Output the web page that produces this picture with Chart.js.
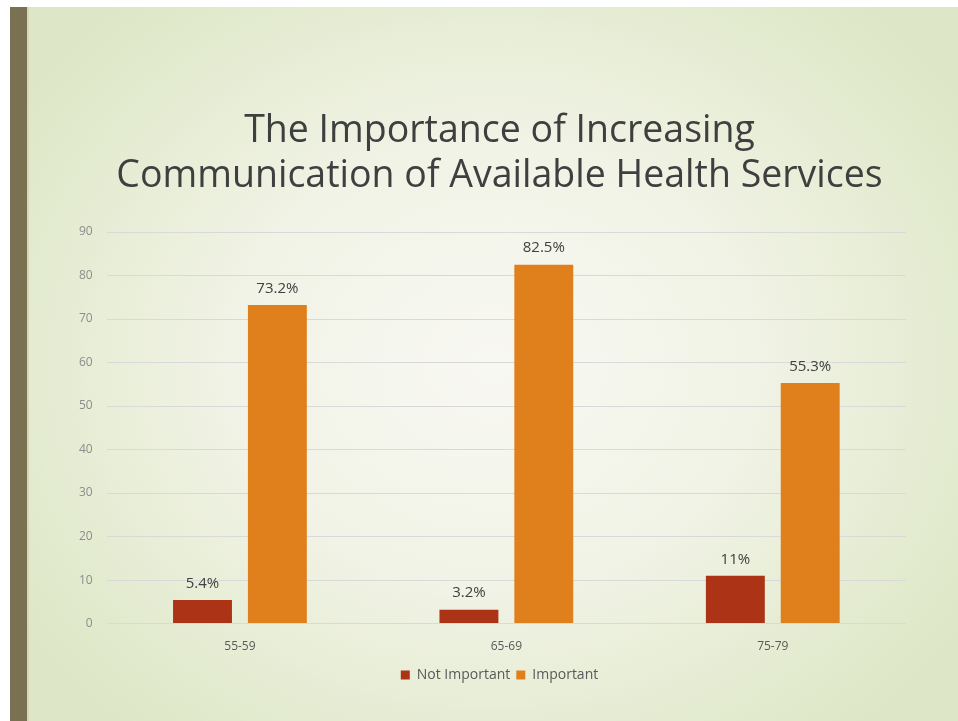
<!DOCTYPE html>
<html>
<head>
<meta charset="utf-8">
<script src="https://cdn.jsdelivr.net/npm/chart.js@4/dist/chart.umd.min.js"></script>
<style>
    html, body { margin: 0; padding: 0; background: #fff; }
    #slide {
        position: absolute; left: 0; top: 0; width: 958px; height: 721px;
        background: #fff; overflow: hidden;
    }
    #stage {
        position: absolute; left: 27px; top: 7px; width: 931px; height: 714px;
        background: radial-gradient(ellipse 62% 68% at 50% 50%, #f8f8f2 0%, #f1f3e6 45%, #e2eacd 85%, #dde6c6 100%);
    }
    #bar {
        position: absolute; left: 10px; top: 7px; width: 17px; height: 714px;
        background: #7a7153;
        box-shadow: 2px 0 0 #d8d6b8;
    }
    #chartBox { position: absolute; left: 0; top: 0; width: 958px; height: 721px; }
</style>
</head>
<body>
<div id="slide">
    <div id="stage"></div>
    <div id="bar"></div>
    <div id="chartBox"><canvas id="importanceChart" width="958" height="721"></canvas></div>
</div>
<script>
// Survey answers by age group (percent)
const ageGroups = ["55-59", "65-69", "75-79"];
const notImportant = [5.4, 3.2, 11];
const important = [73.2, 82.5, 55.3];
const yTicks = [0, 10, 20, 30, 40, 50, 60, 70, 80, 90];

const titleLines = ["The Importance of Increasing", "Communication of Available Health Services"];

// draw the "xx%" labels on top of each bar
const barLabels = {
    id: 'barLabels',
    afterDatasetsDraw(chart) {
        const ctx = chart.ctx;
        ctx.save();
        ctx.font = '15px "Open Sans", sans-serif';
        ctx.fillStyle = '#404040';
        ctx.textAlign = 'center';
        ctx.textBaseline = 'bottom';
        chart.data.datasets.forEach((ds, i) => {
            const meta = chart.getDatasetMeta(i);
            meta.data.forEach((bar, j) => {
                ctx.fillText(ds.data[j] + '%', bar.x, bar.y - 9);
            });
        });
        ctx.restore();
    }
};

// title and legend sit centred on the slide, not on the plot
const centreOnSlide = {
    id: 'centreOnSlide',
    afterLayout(chart) {
        const shift = 14;
        [chart.titleBlock, chart.legend].forEach(box => {
            if (box) {
                box.left += shift;
                box.right += shift;
            }
        });
    }
};

const ctx = document.getElementById('importanceChart').getContext('2d');
new Chart(ctx, {
    type: 'bar',
    data: {
        labels: ageGroups,
        datasets: [
            {
                label: 'Not Important',
                data: notImportant,
                backgroundColor: '#ad3316',
                barPercentage: 0.787,
                categoryPercentage: 0.562
            },
            {
                label: 'Important',
                data: important,
                backgroundColor: '#e0801c',
                barPercentage: 0.787,
                categoryPercentage: 0.562
            }
        ]
    },
    options: {
        responsive: false,
        animation: false,
        layout: {
            padding: { left: 65, right: 52, top: 109, bottom: 29 }
        },
        plugins: {
            title: {
                display: true,
                text: titleLines,
                color: '#3f3f3f',
                font: { family: '"Open Sans", sans-serif', size: 37.5, weight: 'normal', lineHeight: 1.2 },
                padding: { top: 0, bottom: 33 }
            },
            legend: {
                position: 'bottom',
                labels: {
                    color: '#595959',
                    font: { family: '"Open Sans", sans-serif', size: 14 },
                    boxWidth: 9,
                    boxHeight: 9,
                    padding: 6
                }
            },
            tooltip: { enabled: false }
        },
        scales: {
            x: {
                grid: { display: false },
                border: { display: false },
                ticks: {
                    color: '#595959',
                    font: { family: '"Open Sans", sans-serif', size: 12 },
                    padding: 8
                }
            },
            y: {
                min: 0,
                max: 90,
                afterBuildTicks(axis) {
                    axis.ticks = yTicks.map(v => ({ value: v }));
                },
                grid: { color: '#d9d9d9', lineWidth: 1, drawTicks: false },
                border: { display: false },
                ticks: {
                    color: '#8c8c8c',
                    font: { family: '"Open Sans", sans-serif', size: 12 },
                    padding: 14
                }
            }
        }
    },
    plugins: [barLabels, centreOnSlide]
});
</script>
</body>
</html>
